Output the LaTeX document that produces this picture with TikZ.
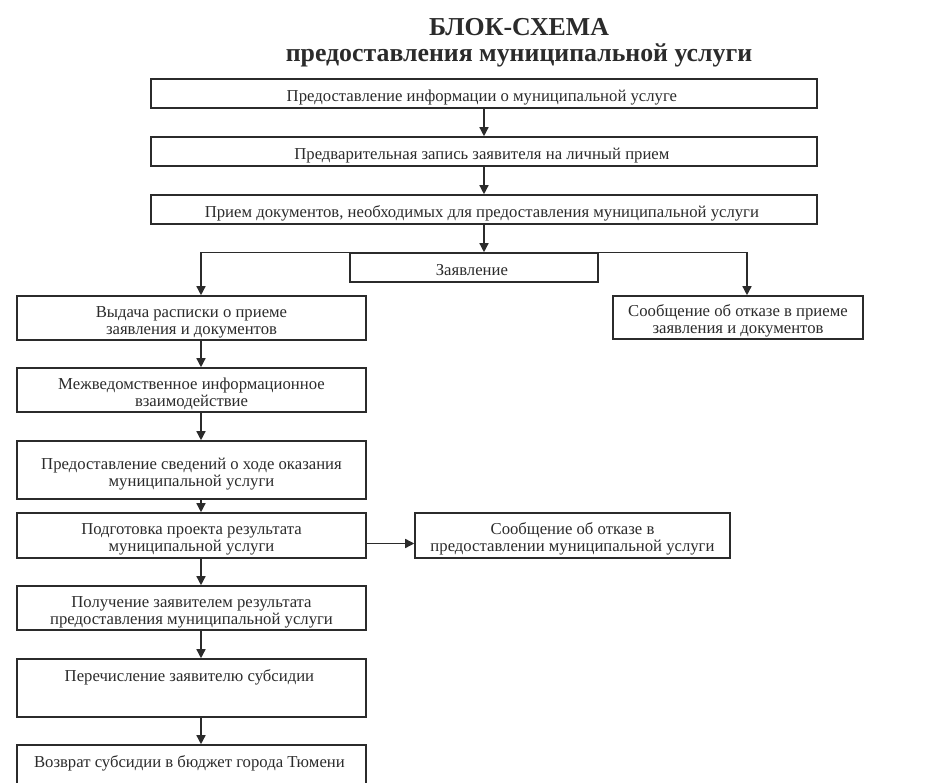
\documentclass[tikz,border=0pt]{standalone}
\usepackage{fontspec}
\setmainfont{Liberation Serif}
\usetikzlibrary{arrows.meta,calc}
\definecolor{ink}{HTML}{2B2B2B}

\begin{document}
\begin{tikzpicture}[x=0.02cm, y=-0.02cm,
      box/.style={draw=ink, line width=0.9pt, align=center, inner sep=2pt,
                  text height=9.5pt, text depth=-4.6pt,
                  font=\fontsize{9.5}{9.6}\selectfont, text=ink},
      twoline/.style={text height=18.6pt},
      toptext/.style={text height=10.8pt, text depth=18.2pt},
      arr/.style={draw=ink, line width=0.8pt, -{Triangle[length=1.8mm,width=1.8mm]}}
    ]
      \useasboundingbox (0,0) rectangle (950,783);

      \node[font=\bfseries\fontsize{14.7}{14.9}\selectfont, align=center, text=ink] (title) at (519,43) {
        БЛОК-СХЕМА\\предоставления муниципальной услуги
      };

      \node[box, minimum width=13.32cm, minimum height=0.58cm] (info) at (484,93.5) {
        Предоставление информации о муниципальной услуге
      };
      \node[box, minimum width=13.32cm, minimum height=0.58cm] (zapis) at (484,151.5) {
        Предварительная запись заявителя на личный прием
      };
      \node[box, minimum width=13.32cm, minimum height=0.58cm] (priem) at (484,209.5) {
        Прием документов, необходимых для предоставления муниципальной услуги
      };
      \node[box, minimum width=4.96cm, minimum height=0.58cm] (zayav) at (474,267.5) {
        Заявление
      };

      \node[box, twoline, minimum width=6.98cm, minimum height=0.88cm] (vydacha) at (191.5,318) {
        Выдача расписки о приеме\\заявления и документов
      };
      \node[box, twoline, minimum width=5cm, minimum height=0.86cm] (otkaz1) at (738,317.5) {
        Сообщение об отказе в приеме\\заявления и документов
      };
      \node[box, twoline, minimum width=6.98cm, minimum height=0.88cm] (mezhved) at (191.5,390) {
        Межведомственное информационное\\взаимодействие
      };
      \node[box, twoline, minimum width=6.98cm, minimum height=1.16cm] (sved) at (191.5,470) {
        Предоставление сведений о ходе оказания\\муниципальной услуги
      };
      \node[box, twoline, minimum width=6.98cm, minimum height=0.9cm] (podg) at (191.5,535.5) {
        Подготовка проекта результата\\муниципальной услуги
      };
      \node[box, twoline, minimum width=6.3cm, minimum height=0.9cm] (otkaz2) at (572.5,535.5) {
        Сообщение об отказе в\\предоставлении муниципальной услуги
      };
      \node[box, twoline, minimum width=6.98cm, minimum height=0.88cm] (poluch) at (191.5,608) {
        Получение заявителем результата\\предоставления муниципальной услуги
      };
      \node[box, toptext, minimum width=6.98cm] (perech) at (191.5,688) {
        Перечисление заявителю субсидии
      };
      \node[box, toptext, minimum width=6.98cm] (vozvrat) at (191.5,774) {
        Возврат субсидии в бюджет города Тюмени
      };

      \coordinate (laxis) at (201,0);
      \coordinate (raxis) at (747,0);

      \draw[arr] (info) -- (zapis);
      \draw[arr] (zapis) -- (priem);
      \draw[arr] (priem) -- (priem.south |- zayav.north);
      \draw[arr] (zayav.north west) -| (vydacha.north -| laxis);
      \draw[arr] (zayav.north east) -| (otkaz1.north -| raxis);
      \foreach \a/\b in {vydacha/mezhved, mezhved/sved, sved/podg, podg/poluch, poluch/perech, perech/vozvrat}
        \draw[arr] (\a.south -| laxis) -- (\b.north -| laxis);
      \draw[arr] ($(podg.east)+(0,8)$) -- ($(otkaz2.west)+(0,8)$);
    \end{tikzpicture}
\end{document}
